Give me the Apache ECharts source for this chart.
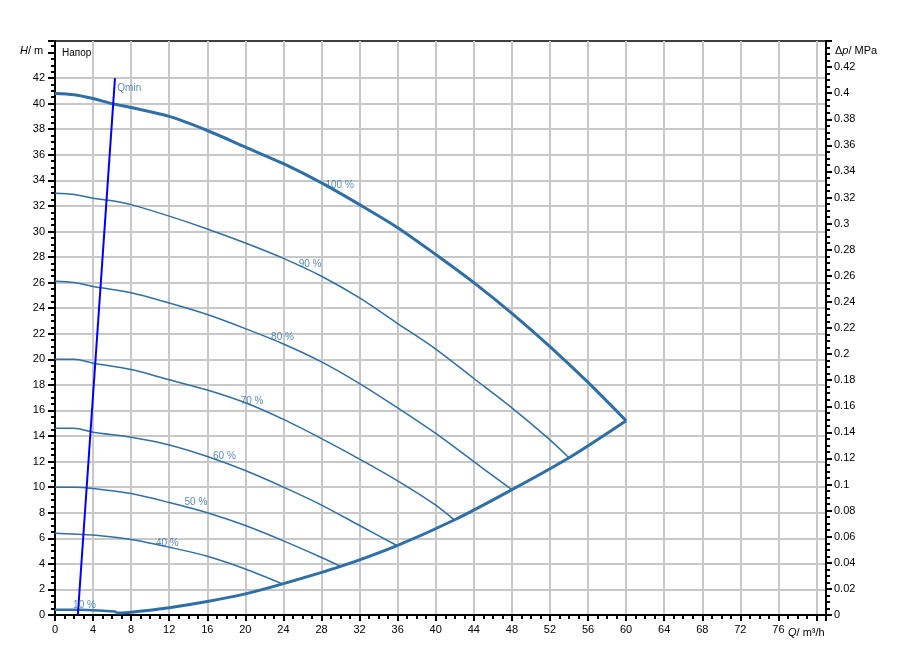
<!DOCTYPE html>
<html><head><meta charset="utf-8">
<script src="https://cdn.jsdelivr.net/npm/echarts@6/dist/echarts.min.js"></script>
<style>html,body{margin:0;padding:0;background:#fff}#c{width:899px;height:671px}</style>
</head><body><div id="c"></div>
<script>
// Flow Q (m3/h) and head H (m)
const q100 = [0,2,4,6,8,12,16,20,24,28,32,36,40,44,48,52,56,60];
const h100 = [40.8,40.7,40.4,40.0,39.7,39.0,37.9,36.6,35.3,33.8,32.1,30.3,28.2,26.0,23.6,21.0,18.2,15.2];
const q90 = [0,2,4,6,8,12,16,20,24,28,32,36,40,44,48,52,54];
const h90 = [33.0,32.9,32.6,32.4,32.1,31.2,30.2,29.1,27.9,26.5,24.8,22.8,20.8,18.5,16.2,13.7,12.3];
const q80 = [0,2,4,8,12,16,20,24,28,32,36,40,44,48];
const h80 = [26.1,26.0,25.7,25.2,24.4,23.5,22.4,21.2,19.8,18.1,16.2,14.2,12.0,9.8];
const q70 = [0,2,4,8,12,16,20,24,28,32,36,40,42];
const h70 = [20.0,20.0,19.7,19.2,18.4,17.6,16.6,15.3,13.8,12.2,10.5,8.6,7.4];
const q60 = [0,2,4,8,12,16,20,24,28,32,36];
const h60 = [14.6,14.6,14.3,13.9,13.3,12.4,11.3,10.0,8.6,7.0,5.4];
const q50 = [0,2,4,8,12,16,20,24,28,30];
const h50 = [10.0,10.0,9.9,9.5,8.8,8.0,7.0,5.8,4.5,3.8];
const q40 = [0,3,4,8,12,16,20,24];
const h40 = [6.4,6.3,6.25,5.9,5.3,4.6,3.6,2.4];
const q10 = [0,2.7,2.9,4.6,4.8,6.3,6.5];
const h10 = [0.42,0.42,0.35,0.35,0.27,0.27,0.15];
const qSys = [6.5,8,12,16,20,24,30,36,42,48,54,60];
const hSys = [0.15,0.22,0.57,1.05,1.65,2.45,3.8,5.45,7.45,9.8,12.3,15.2];
const qMin = [2.4,6.3];
const hMin = [0,42];
const labelText = ['100 %','90 %','80 %','70 %','60 %','50 %','40 %','10 %','Qmin'];
const labelQ = [29.9,26.8,23.9,20.7,17.8,14.8,11.8,3.1,7.8];
const labelH = [33.6,27.4,21.7,16.7,12.4,8.8,5.6,0.8,41.2];

const C = '#2f6fa7';
const GRID = '#c8c8c8';
const NONE = 'rgba(0,0,0,0)';
const pair = (qs, hs) => qs.map((q, i) => [q, hs[i]]);
const FONT = 'Liberation Sans, Arial, sans-serif';

// split-line colours per tick: y ticks 0..44 step 2 then max; x ticks 0..80 step 4 then max
const yGridColors = Array.from({ length: 24 }, (_, i) => i <= 21 ? GRID : NONE);
const xGridColors = Array.from({ length: 22 }, (_, i) => i <= 20 ? GRID : NONE);

function line(qs, hs, w, color) {
  return { type: 'line', data: pair(qs, hs), showSymbol: false, symbol: 'none',
    lineStyle: { color: color || C, width: w }, smooth: 0.3, animation: false, z: 3 };
}

const chart = echarts.init(document.getElementById('c'));
chart.setOption({
  animation: false,
  grid: { left: 55, right: 73, top: 41, bottom: 56, show: true, borderColor: '#000', borderWidth: 1.5 },
  xAxis: {
    type: 'value', min: 0, max: 81, interval: 4,
    axisLine: { lineStyle: { color: '#000', width: 2 } },
    axisTick: { length: 6, lineStyle: { color: '#000', width: 2 } },
    minorTick: { show: true, splitNumber: 4, length: 4, lineStyle: { color: '#000', width: 2 } },
    splitLine: { show: true, lineStyle: { color: xGridColors, width: 2 } },
    axisLabel: { color: '#000', fontSize: 11, fontFamily: FONT, margin: 9,
      formatter: v => (v % 4 === 0 && v <= 76) ? String(v) : '' }
  },
  yAxis: [{
    type: 'value', min: 0, max: 44.9, interval: 2, position: 'left',
    axisLine: { show: true, lineStyle: { color: '#000', width: 2 } },
    axisTick: { show: true, length: 7, lineStyle: { color: '#000', width: 2 } },
    minorTick: { show: true, splitNumber: 4, length: 4, lineStyle: { color: '#000', width: 2 } },
    splitLine: { show: true, lineStyle: { color: yGridColors, width: 2 } },
    axisLabel: { color: '#000', fontSize: 11, fontFamily: FONT, margin: 10,
      formatter: v => (v % 2 === 0 && v <= 42) ? String(v) : '' }
  }, {
    type: 'value', min: 0, max: 0.44, interval: 0.02, position: 'right',
    axisLine: { show: true, lineStyle: { color: '#000', width: 2 } },
    axisTick: { show: true, length: 6, lineStyle: { color: '#000', width: 2 } },
    minorTick: { show: true, splitNumber: 4, length: 4, lineStyle: { color: '#000', width: 2 } },
    splitLine: { show: false },
    axisLabel: { color: '#000', fontSize: 11, fontFamily: FONT, margin: 8,
      formatter: v => v > 0.43 ? '' : String(+v.toFixed(2)) }
  }],
  series: [
    line(q100, h100, 3),
    line(q90, h90, 1.5),
    line(q80, h80, 1.5),
    line(q70, h70, 1.5),
    line(q60, h60, 1.5),
    line(q50, h50, 1.5),
    line(q40, h40, 1.5),
    Object.assign(line(q10, h10, 2.5), { smooth: false }),
    line(qSys, hSys, 3),
    Object.assign(line(qMin, hMin, 2, '#0000ff'), { smooth: false, z: 4 }),
    { type: 'scatter', data: pair(labelQ, labelH).map((d, i) => ({ value: d, name: labelText[i] })),
      symbolSize: 0, z: 5, silent: true,
      label: { show: true, position: 'inside', formatter: p => p.name, color: C, fontSize: 10, fontFamily: FONT } }
  ],
  graphic: [
    { type: 'text', z: 100, left: 20, top: 45, style: { text: '{i|H}/ m', fontSize: 11, fontFamily: FONT, fill: '#000',
      rich: { i: { fontStyle: 'italic', fontSize: 11, fontFamily: FONT, fill: '#000' } } } },
    { type: 'text', z: 100, left: 62, top: 48, style: { text: 'Напор', fontSize: 10, fontFamily: FONT, fill: '#000' } },
    { type: 'text', z: 100, left: 835, top: 45, style: { text: 'Δ{i|p}/ MPa', fontSize: 11, fontFamily: FONT, fill: '#000',
      rich: { i: { fontStyle: 'italic', fontSize: 11, fontFamily: FONT, fill: '#000' } } } },
    { type: 'text', z: 100, left: 788, top: 627, style: { text: '{i|Q}/ m³/h', fontSize: 11, fontFamily: FONT, fill: '#000',
      rich: { i: { fontStyle: 'italic', fontSize: 11, fontFamily: FONT, fill: '#000' } } } }
  ]
});
</script></body></html>
